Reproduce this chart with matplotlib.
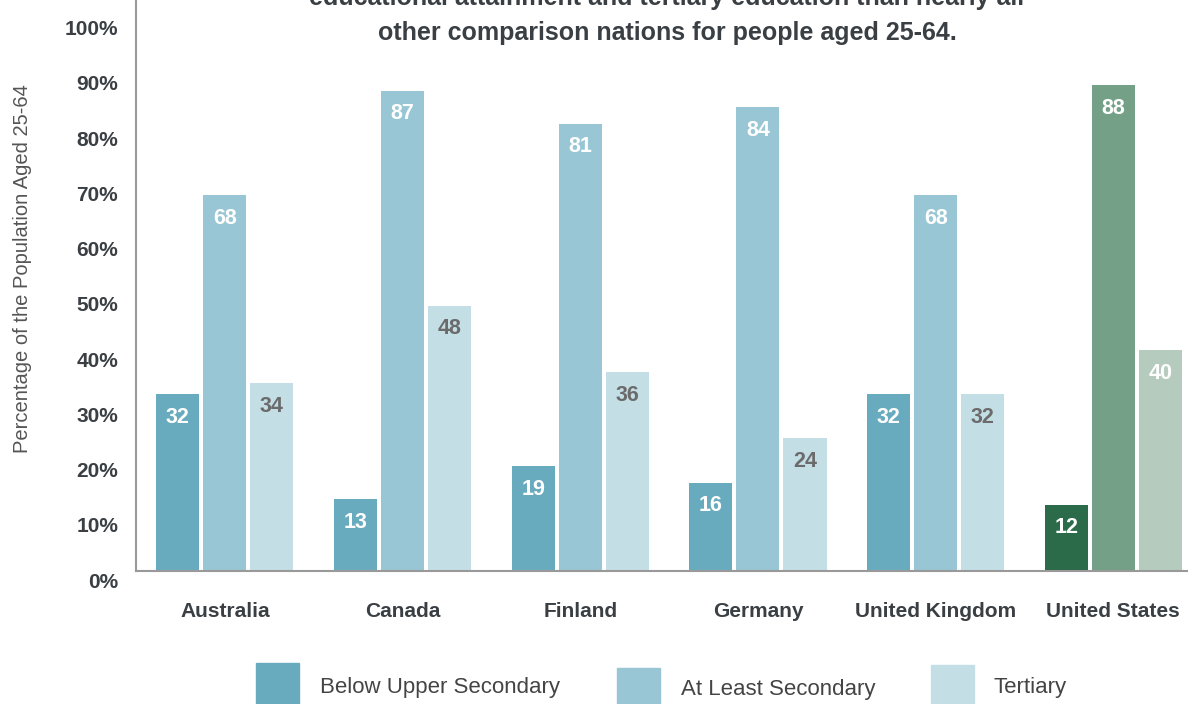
import numpy as np
import matplotlib
matplotlib.use("Agg")
import matplotlib.pyplot as plt
from matplotlib.patches import Rectangle
from matplotlib.transforms import ScaledTranslation

countries = ["Australia", "Canada", "Finland", "Germany", "United Kingdom", "United States"]
series = ["Below Upper Secondary", "At Least Secondary", "Tertiary"]
below = [32, 13, 19, 16, 32, 12]
at_least = [68, 87, 81, 84, 68, 88]
tertiary = [34, 48, 36, 24, 32, 40]
yticks = [0, 10, 20, 30, 40, 50, 60, 70, 80, 90, 100]

blue = ["#69abbe", "#98c6d4", "#c4dee6"]
green = ["#2c6b49", "#74a087", "#b4cbbe"]
label_col = ["white", "white", "#6b6b6b"]

font = ["Liberation Sans", "DejaVu Sans"]
dark = "#3a3f44"

fig = plt.figure(figsize=(11.88, 7.04), dpi=100)
W, H = 1188, 704
ax = fig.add_axes([136 / W, 1 - 571 / H, 1 - 136 / W, 571 / H])

x = np.arange(len(countries))
w = 43 / 177.5
step = 47 / 177.5
for i, vals in enumerate([below, at_least, tertiary]):
    cols = [green[i] if c == "United States" else blue[i] for c in countries]
    bars = ax.bar(x + (i - 1) * step, vals, w, color=cols)
    for j, b in enumerate(bars):
        tc = "white" if countries[j] == "United States" else label_col[i]
        ax.annotate(str(vals[j]), (b.get_x() + b.get_width() / 2, b.get_height()),
                    xytext=(0, -23 * 0.72), textcoords="offset points",
                    ha="center", va="center", color=tc, fontsize=15.5,
                    fontweight="bold", family=font)

ax.set_xlim(-0.5, 5.42)
ax.set_ylim(0, 103.4)
ax.set_yticks(yticks)
ax.set_yticklabels([])
# percent labels sit a little below their gridline positions in the original
shift = ax.get_yaxis_transform() + ScaledTranslation(-18 / 100, -11 / 100, fig.dpi_scale_trans)
for t in yticks:
    ax.text(0, t, f"{t}%", transform=shift, ha="right", va="center", family=font,
            fontsize=15, fontweight="bold", color=dark)
ax.set_xticks(x)
ax.set_xticklabels(countries, family=font, fontsize=15, fontweight="bold", color=dark)
ax.tick_params(axis="y", length=0)
ax.tick_params(axis="x", length=0, pad=22)
for s in ["top", "right"]:
    ax.spines[s].set_visible(False)
for s in ["left", "bottom"]:
    ax.spines[s].set_color("#999999")
    ax.spines[s].set_linewidth(1.5)

ax.set_ylabel("Percentage of the Population Aged 25-64", family=font,
              fontsize=14.5, color="#555555")
ax.yaxis.set_label_coords(-(136 - 32) / (W - 136), 0.53)

fig.text(667 / W, 1 - 33 / H, "other comparison nations for people aged 25-64.",
         ha="center", va="center", fontsize=18, fontweight="bold", color=dark, family=font)
fig.text(667 / W, 1 + 2 / H, "educational attainment and tertiary education than nearly all",
         ha="center", va="center", fontsize=18, fontweight="bold", color=dark, family=font)

# legend drawn by hand (boxes are staggered in the original)
leg_box = [(256, 663), (617, 668), (931, 665)]
leg_txt = [(320, 688), (681, 690), (994, 688)]
for i, name in enumerate(series):
    bx, by = leg_box[i]
    fig.patches.append(Rectangle((bx / W, 1 - (by + 44) / H), 43 / W, 44 / H,
                                 transform=fig.transFigure, color=blue[i]))
    tx, ty = leg_txt[i]
    fig.text(tx / W, 1 - ty / H, name, ha="left", va="center", fontsize=16,
             color="#444444", family=font)

fig.savefig("out.png", dpi=100)
